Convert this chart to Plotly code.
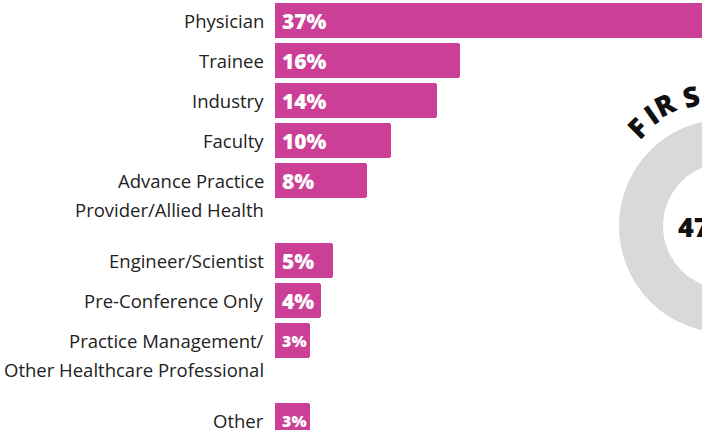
import plotly.graph_objects as go

# ---- data ----
categories = [
    "Physician", "Trainee", "Industry", "Faculty",
    "Advance Practice<br>Provider/Allied Health",
    "Engineer/Scientist", "Pre-Conference Only",
    "Practice Management/<br>Other Healthcare Professional",
    "Other",
]
values = [37, 16, 14, 10, 8, 5, 4, 3, 3]
value_labels = ["37%", "16%", "14%", "10%", "8%", "5%", "4%", "3%", "3%"]
donut_title = "FIRST"
donut_center_text = "47%"

# ---- layout helpers (rows on a reversed numeric y axis, 40 px per row) ----
rows = [0, 1, 2, 3, 4, 6, 7, 8, 10]
W, H = 702, 430
x0_px, px_per_unit = 275, 11.56
row_px, row0_px = 40, 20.5
x_range = [-x0_px / px_per_unit, (W - x0_px) / px_per_unit]
y_range = [(H - row0_px) / row_px, -row0_px / row_px]

def px_to_x(px):
    return (px - x0_px) / px_per_unit

def px_to_y(py):
    return (py - row0_px) / row_px

BAR = "#cc3f96"
FONT = "Open Sans"

fig = go.Figure()
fig.add_trace(go.Bar(
    x=values, y=rows, orientation="h", width=0.875,
    marker=dict(color=BAR, line=dict(width=0), cornerradius=3),
    hoverinfo="skip",
))

annotations = []
# category labels (multi-line split into separate lines)
line_gap = 0.73
for cat, r in zip(categories, rows):
    for k, line in enumerate(cat.split("<br>")):
        annotations.append(dict(
            x=0, y=r + k * line_gap, xref="x", yref="y", text=line,
            xanchor="right", yanchor="middle", xshift=-9, showarrow=False,
            font=dict(family=FONT, size=18.5, color="#222222"),
        ))
# value labels inside bars
for lab, v, r in zip(value_labels, values, rows):
    annotations.append(dict(
        x=0, y=r, xref="x", yref="y", text=lab,
        xanchor="left", yanchor="middle", xshift=5, showarrow=False,
        font=dict(family=FONT, size=21 if v >= 4 else 16, color="white", weight=800),
    ))

# donut (partially visible at right edge)
cx, cy = px_to_x(726), px_to_y(226)
shapes = [
    dict(type="circle", xref="x", yref="y", xsizemode="pixel", ysizemode="pixel",
         xanchor=cx, yanchor=cy, x0=-107, x1=107, y0=-107, y1=107,
         fillcolor="#d9d9d9", line=dict(width=0), layer="above"),
    dict(type="circle", xref="x", yref="y", xsizemode="pixel", ysizemode="pixel",
         xanchor=cx, yanchor=cy, x0=-63, x1=63, y0=-63, y1=63,
         fillcolor="white", line=dict(width=0), layer="above"),
]
annotations.append(dict(
    x=px_to_x(676), y=cy, xref="x", yref="y", text=donut_center_text,
    xanchor="left", yanchor="middle", showarrow=False,
    font=dict(family=FONT, size=27, color="#111111", weight=800),
))
# curved title letters
letter_pos = [(637, 128, -45), (651, 114, -35), (665, 104, -26), (691, 96, -15), (716, 92, -5)]
for ch, (px, py, ang) in zip(donut_title, letter_pos):
    annotations.append(dict(
        x=px_to_x(px), y=px_to_y(py), xref="x", yref="y", text=ch,
        textangle=ang, showarrow=False, xanchor="center", yanchor="middle",
        font=dict(family=FONT, size=28, color="#111111", weight=800),
    ))

fig.update_layout(
    width=W, height=H, margin=dict(l=0, r=0, t=0, b=0),
    paper_bgcolor="white", plot_bgcolor="white", showlegend=False,
    xaxis=dict(range=x_range, visible=False, fixedrange=True),
    yaxis=dict(range=y_range, visible=False, fixedrange=True),
    annotations=annotations, shapes=shapes, bargap=0,
)
fig.write_html(
    "out.html",
    config={"displayModeBar": False},
    post_script="document.body.style.margin='0';document.body.style.overflow='hidden';",
)
